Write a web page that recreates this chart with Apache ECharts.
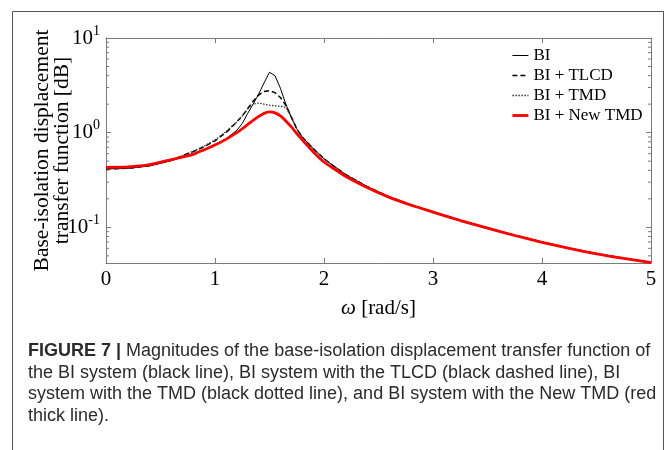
<!DOCTYPE html>
<html>
<head>
<meta charset="utf-8">
<script src="https://cdn.jsdelivr.net/npm/echarts@6/dist/echarts.min.js"></script>
<style>
  html, body { margin: 0; padding: 0; background: #fff; }
  #chart { width: 668px; height: 450px; }
</style>
</head>
<body>
<div id="chart"></div>
<script>
// frequency grid (rad/s)
const omega = [0, 0.2, 0.4, 0.6, 0.8, 0.9, 1.0, 1.1, 1.2, 1.25, 1.3, 1.35, 1.4, 1.45, 1.5, 1.55, 1.6, 1.65, 1.7, 1.75, 1.8, 1.9, 2.0, 2.1, 2.2, 2.4, 2.6, 2.8, 3.0, 3.25, 3.5, 3.75, 4.0, 4.25, 4.5, 4.75, 5.0]
// magnitudes
const bi = [0.415, 0.42, 0.445, 0.505, 0.6, 0.665, 0.75, 0.86, 1.06, 1.25, 1.6, 2.0, 2.55, 3.35, 4.35, 4.0, 2.95, 2.0, 1.45, 1.1, 0.9, 0.68, 0.53, 0.435, 0.36, 0.268, 0.21, 0.173, 0.146, 0.119, 0.0985, 0.0825, 0.07, 0.0603, 0.0528, 0.0472, 0.0427]
const tlcd = [0.415, 0.42, 0.45, 0.515, 0.63, 0.71, 0.82, 1.0, 1.3, 1.5, 1.8, 2.15, 2.5, 2.72, 2.78, 2.65, 2.35, 1.95, 1.47, 1.1, 0.9, 0.68, 0.53, 0.435, 0.36, 0.268, 0.21, 0.173, 0.146, 0.119, 0.0985, 0.0825, 0.07, 0.0603, 0.0528, 0.0472, 0.0427]
const tmd = [0.415, 0.42, 0.45, 0.515, 0.635, 0.72, 0.84, 1.02, 1.3, 1.5, 1.78, 2.0, 2.05, 2.0, 1.95, 1.92, 1.9, 1.85, 1.47, 1.1, 0.9, 0.68, 0.53, 0.435, 0.36, 0.268, 0.21, 0.173, 0.146, 0.119, 0.0985, 0.0825, 0.07, 0.0603, 0.0528, 0.0472, 0.0427]
const newTmd = [0.43, 0.435, 0.46, 0.52, 0.59, 0.66, 0.74, 0.85, 1.0, 1.1, 1.22, 1.35, 1.48, 1.6, 1.66, 1.62, 1.5, 1.33, 1.15, 0.98, 0.84, 0.63, 0.49, 0.41, 0.345, 0.262, 0.207, 0.171, 0.145, 0.118, 0.098, 0.082, 0.0695, 0.06, 0.0525, 0.047, 0.0425]
const seriesNames = ['BI', 'BI + TLCD', 'BI + TMD', 'BI + New TMD']
// log minor ticks
const minorTickValues = [0.05, 0.06, 0.07, 0.08, 0.09, 0.2, 0.3, 0.4, 0.5, 0.6, 0.7, 0.8, 0.9, 2, 3, 4, 5, 6, 7, 8, 9]

const serif = 'Liberation Serif'
const sans = 'Liberation Sans'
const axisColor = '#7a7a7a'

const pairs = ys => omega.map((w, i) => [w, ys[i]])

const supLabel = v => {
  const e = Math.round(Math.log10(v))
  return '{n|10}{s|' + e + '}'
}

const option = {
  animation: false,
  backgroundColor: '#fff',
  grid: { left: 106, right: 17, top: 38, bottom: 187 },
  legend: {
    data: seriesNames,
    orient: 'vertical',
    left: 511,
    top: 47,
    padding: 0,
    itemWidth: 16,
    itemHeight: 14,
    itemGap: 3,
    itemStyle: { opacity: 0 },
    lineStyle: { width: 'inherit' },
    textStyle: { fontFamily: serif, fontSize: 17, color: '#000', lineHeight: 17 }
  },
  xAxis: [
    {
      type: 'value', min: 0, max: 5, interval: 1, position: 'bottom',
      axisLine: { onZero: false, lineStyle: { color: axisColor } },
      axisTick: { inside: true, length: 5, lineStyle: { color: axisColor } },
      axisLabel: { color: '#000', fontFamily: serif, fontSize: 21, margin: 6 },
      splitLine: { show: false },
      name: '{i|ω} [rad/s]',
      nameLocation: 'middle',
      nameGap: 35,
      nameMoveOverlap: false,
      nameTextStyle: {
        color: '#000', fontFamily: serif, fontSize: 21,
        rich: { i: { fontStyle: 'italic', fontFamily: serif, fontSize: 21, color: '#000' } }
      }
    },
    {
      type: 'value', min: 0, max: 5, interval: 1, position: 'top',
      axisLine: { onZero: false, lineStyle: { color: axisColor } },
      axisTick: { inside: true, length: 5, lineStyle: { color: axisColor } },
      axisLabel: { show: false },
      splitLine: { show: false }
    }
  ],
  yAxis: [
    {
      type: 'log', logBase: 10, min: 0.042, max: 10, position: 'left',
      axisLine: { show: true, onZero: false, lineStyle: { color: axisColor } },
      axisTick: { inside: true, length: 5, lineStyle: { color: axisColor } },
      axisLabel: {
        showMinLabel: false, margin: 6, formatter: supLabel,
        rich: {
          n: { fontFamily: serif, fontSize: 21, color: '#000', lineHeight: 28 },
          s: { fontFamily: serif, fontSize: 14, color: '#000', lineHeight: 14, verticalAlign: 'top' }
        }
      },
      splitLine: { show: false },
      name: 'Base-isolation displacement\ntransfer function [dB]',
      nameLocation: 'middle',
      nameRotate: 90,
      nameGap: 34,
      nameMoveOverlap: false,
      nameTextStyle: { color: '#000', fontFamily: serif, fontSize: 21.5, lineHeight: 19.5 }
    },
    {
      type: 'log', logBase: 10, min: 0.042, max: 10, position: 'right',
      axisLine: { show: true, onZero: false, lineStyle: { color: axisColor } },
      axisTick: { inside: true, length: 5, lineStyle: { color: axisColor } },
      axisLabel: { show: false },
      splitLine: { show: false }
    }
  ],
  series: [
    {
      name: 'BI', type: 'line', symbol: 'none', data: pairs(bi),
      lineStyle: { color: '#000', width: 1 }, itemStyle: { color: '#000' }, z: 3
    },
    {
      name: 'BI + TLCD', type: 'line', symbol: 'none', data: pairs(tlcd),
      lineStyle: { color: '#000', width: 1.5, type: [5, 3] }, itemStyle: { color: '#000' }, z: 3
    },
    {
      name: 'BI + TMD', type: 'line', symbol: 'none', data: pairs(tmd),
      lineStyle: { color: '#333', width: 1.3, type: [1.5, 1.5] }, itemStyle: { color: '#333' }, z: 3
    },
    {
      name: 'BI + New TMD', type: 'line', symbol: 'none', smooth: 0.2, data: pairs(newTmd),
      lineStyle: { color: '#ff0000', width: 2.8 }, itemStyle: { color: '#ff0000' }, z: 4
    },
    {
      // minor ticks of the log axes, left and right
      type: 'custom', silent: true, z: 2,
      data: minorTickValues.map(v => [0, v]),
      renderItem: (params, api) => {
        const v = api.value(1)
        const p = api.coord([0, v])
        const q = api.coord([5, v])
        const st = { stroke: axisColor, lineWidth: 1 }
        return {
          type: 'group',
          children: [
            { type: 'line', shape: { x1: p[0], y1: p[1], x2: p[0] + 3, y2: p[1] }, style: st },
            { type: 'line', shape: { x1: q[0], y1: q[1], x2: q[0] - 3, y2: q[1] }, style: st }
          ]
        }
      }
    }
  ],
  graphic: [
    {
      type: 'rect', silent: true,
      shape: { x: 12.5, y: 11.5, width: 651, height: 450 },
      style: { fill: 'none', stroke: '#555', lineWidth: 1 }
    },
    {
      type: 'text', left: 28, top: 340, silent: true,
      style: {
        text: '{b|FIGURE 7 |} Magnitudes of the base-isolation displacement transfer function of\n' +
          'the BI system (black line), BI system with the TLCD (black dashed line), BI\n' +
          'system with the TMD (black dotted line), and BI system with the New TMD (red\n' +
          'thick line).',
        fontFamily: sans, fontSize: 18, lineHeight: 21.8, fill: '#2b2b2b',
        rich: { b: { fontFamily: sans, fontSize: 18, fontWeight: 'bold', lineHeight: 21.8, fill: '#2b2b2b' } }
      }
    }
  ]
}

const chart = echarts.init(document.getElementById('chart'))
chart.setOption(option)
</script>
</body>
</html>
